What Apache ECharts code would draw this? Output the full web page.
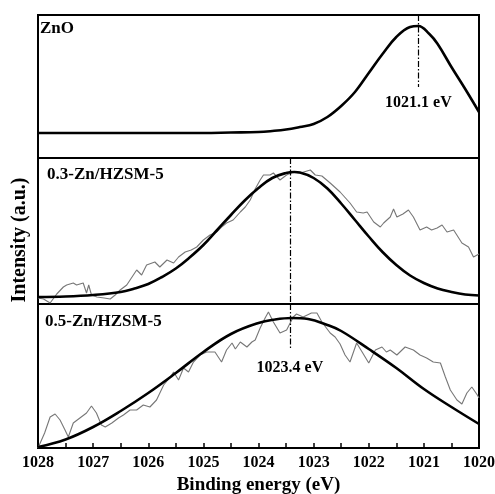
<!DOCTYPE html>
<html>
<head>
<meta charset="utf-8">
<script src="https://cdn.jsdelivr.net/npm/echarts@6/dist/echarts.min.js"></script>
<style>html,body{margin:0;padding:0;background:#fff;}#c{width:495px;height:494px;}</style>
</head>
<body>
<div id="c"></div>
<script>
// ---- data (binding energy eV, intensity a.u.) ----
const panelNames = ['ZnO', '0.3-Zn/HZSM-5', '0.5-Zn/HZSM-5'];
const xTicks = [1028, 1027, 1026, 1025, 1024, 1023, 1022, 1021, 1020];
const peakZnO = 1021.1;
const peakZn = 1023.4;

const znoCurve = [[1028,25],[1027.5,25],[1027,25],[1026.5,25],[1026,25],[1025.5,25],[1025,25],[1024.5,25.5],[1024,26],[1023.75,27],[1023.5,28.5],[1023.25,31],[1023,34],[1022.75,41],[1022.5,52],[1022.25,66],[1022,85],[1021.75,104],[1021.5,121],[1021.25,131],[1021.1,132],[1020.9,124],[1020.75,114],[1020.5,91],[1020.25,69],[1020,46]];

const zn03Raw = [[1028,6],[1027.9,5],[1027.78,1],[1027.66,10],[1027.54,17],[1027.48,19],[1027.36,21],[1027.3,19],[1027.18,21],[1027.12,11],[1027.08,19],[1027.03,9],[1026.93,7],[1026.8,6],[1026.69,5],[1026.6,9],[1026.51,14],[1026.39,19],[1026.33,24],[1026.21,34],[1026.12,29],[1026.03,39],[1025.88,42],[1025.79,37],[1025.66,44],[1025.54,41],[1025.45,47],[1025.33,52],[1025.22,54],[1025.12,57],[1025.0,64],[1024.88,69],[1024.76,72],[1024.67,77],[1024.58,81],[1024.46,84],[1024.33,92],[1024.24,97],[1024.15,104],[1024.06,115],[1023.97,124],[1023.91,129],[1023.79,129],[1023.73,131],[1023.61,124],[1023.49,129],[1023.37,132],[1023.24,131],[1023.06,134],[1022.97,129],[1022.85,128],[1022.7,121],[1022.52,112],[1022.34,101],[1022.22,92],[1022.1,91],[1022.03,92],[1021.91,82],[1021.79,77],[1021.73,81],[1021.61,87],[1021.55,95],[1021.49,87],[1021.38,90],[1021.28,94],[1021.19,87],[1021.07,74],[1020.95,77],[1020.86,74],[1020.76,76],[1020.67,79],[1020.58,72],[1020.46,74],[1020.31,61],[1020.19,57],[1020.1,47],[1020.0,50]];

const zn03Fit = [[1028,7],[1027.5,7.5],[1027,9],[1026.5,12],[1026.25,15.5],[1026,20],[1025.75,27],[1025.5,35.5],[1025.25,46.5],[1025,59],[1024.75,74],[1024.5,89],[1024.25,103.5],[1024,116],[1023.75,126],[1023.5,131],[1023.35,132],[1023.25,131.5],[1023,126],[1022.75,115.5],[1022.5,100.5],[1022.25,84],[1022,67.5],[1021.75,52],[1021.5,39],[1021.25,28.5],[1021,21],[1020.75,15.5],[1020.5,12],[1020.25,9.5],[1020,8.5]];

const zn05Raw = [[1028,0],[1027.88,15],[1027.78,31],[1027.69,34],[1027.6,28],[1027.51,18],[1027.45,11],[1027.36,25],[1027.24,30],[1027.12,35],[1027.03,42],[1026.94,35],[1026.85,23],[1026.78,21],[1026.66,25],[1026.54,30],[1026.45,33],[1026.33,38],[1026.21,38],[1026.09,43],[1025.97,41],[1025.85,48],[1025.72,63],[1025.6,71],[1025.54,76],[1025.45,68],[1025.36,80],[1025.27,76],[1025.18,86],[1025.06,93],[1024.94,96],[1024.79,96],[1024.67,86],[1024.58,98],[1024.48,105],[1024.42,99],[1024.33,106],[1024.21,101],[1024.12,106],[1024.06,108],[1023.97,120],[1023.88,130],[1023.82,136],[1023.73,126],[1023.61,115],[1023.49,118],[1023.37,131],[1023.31,134],[1023.19,131],[1023.04,135],[1022.94,135],[1022.85,126],[1022.7,115],[1022.61,111],[1022.52,104],[1022.43,93],[1022.34,86],[1022.22,105],[1022.12,96],[1022.0,85],[1021.88,98],[1021.76,101],[1021.68,96],[1021.61,98],[1021.49,93],[1021.34,101],[1021.19,98],[1021.07,93],[1020.95,90],[1020.83,86],[1020.7,85],[1020.61,71],[1020.52,58],[1020.4,48],[1020.31,44],[1020.22,55],[1020.13,61],[1020.03,53],[1020.0,50]];

const zn05Fit = [[1028,1],[1027.5,8.5],[1027,21],[1026.5,37],[1026,55],[1025.5,75],[1025,96],[1024.5,114],[1024,125],[1023.7,128.5],[1023.4,130],[1023.1,129],[1022.75,123],[1022.5,117],[1022,99],[1021.5,80],[1021,59],[1020.5,41],[1020,24]];

// ---- chart ----
const FONT = 'Liberation Serif';
const grids = [
  {left: 38, right: 16, top: 15, height: 143},
  {left: 38, right: 16, top: 158, height: 146},
  {left: 38, right: 16, top: 304, height: 144}
];
const yMax = [143, 146, 144];

const chart = echarts.init(document.getElementById('c'), null, {renderer: 'canvas'});

const xAxes = grids.map((g, i) => ({
  gridIndex: i, type: 'value', min: 1020, max: 1028, interval: 1, inverse: true,
  axisLine: {show: false},
  splitLine: {show: false},
  axisTick: {show: i === 2, inside: true, length: 5, lineStyle: {color: '#000', width: 1.5}},
  minorTick: {show: i === 2, splitNumber: 2, length: 5, lineStyle: {color: '#000', width: 1.5}},
  axisLabel: {show: i === 2, color: '#000', fontFamily: FONT, fontWeight: 'bold', fontSize: 16, margin: 7,
    formatter: v => String(v)},
  name: i === 2 ? 'Binding energy (eV)' : '',
  nameLocation: 'middle', nameGap: 28,
  nameTextStyle: {color: '#000', fontFamily: FONT, fontWeight: 'bold', fontSize: 19}
}));
const yAxes = grids.map((g, i) => ({
  gridIndex: i, type: 'value', min: 0, max: yMax[i], show: false
}));

const dashDot = [6, 2, 1.5, 2];
const labelStyle = {color: '#000', fontFamily: FONT, fontWeight: 'bold', fontSize: 16};

const option = {
  animation: false,
  backgroundColor: '#fff',
  grid: grids.map(g => Object.assign({show: true, borderColor: '#000', borderWidth: 2, backgroundColor: 'transparent', outerBoundsMode: 'none', containLabel: false}, g)),
  xAxis: xAxes,
  yAxis: yAxes,
  title: [
    {text: panelNames[0], left: 40, top: 20},
    {text: panelNames[1], left: 47, top: 166},
    {text: panelNames[2], left: 45, top: 313}
  ].map(t => Object.assign(t, {padding: 0, textStyle: {color: '#000', fontFamily: FONT, fontWeight: 'bold', fontSize: 17}})),
  graphic: [{
    type: 'text', x: 20, y: 240, rotation: Math.PI / 2, origin: [0, 0],
    style: {text: 'Intensity (a.u.)', fill: '#000', font: 'bold 20px "Liberation Serif"', align: 'center', verticalAlign: 'middle'}
  }],
  series: [
    {
      type: 'line', xAxisIndex: 0, yAxisIndex: 0, data: znoCurve, smooth: 0.4, symbol: 'none',
      lineStyle: {color: '#000', width: 2.6},
      markLine: {
        silent: true, symbol: 'none',
        lineStyle: {color: '#000', width: 1.2, type: dashDot},
        label: Object.assign({show: true, position: 'end', distance: 8, formatter: peakZnO.toFixed(1) + ' eV'}, labelStyle),
        data: [[{coord: [peakZnO, 143]}, {coord: [peakZnO, 71]}]]
      }
    },
    {
      type: 'line', xAxisIndex: 1, yAxisIndex: 1, data: zn03Raw, symbol: 'none',
      lineStyle: {color: '#777', width: 1.1}
    },
    {
      type: 'line', xAxisIndex: 1, yAxisIndex: 1, data: zn03Fit, smooth: 0.4, symbol: 'none',
      lineStyle: {color: '#000', width: 2.6},
      markLine: {
        silent: true, symbol: 'none',
        lineStyle: {color: '#000', width: 1.2, type: dashDot},
        label: {show: false},
        data: [[{coord: [peakZn + 0.03, 146]}, {coord: [peakZn + 0.03, 0]}]]
      }
    },
    {
      type: 'line', xAxisIndex: 2, yAxisIndex: 2, data: zn05Raw, symbol: 'none',
      lineStyle: {color: '#777', width: 1.1}
    },
    {
      type: 'line', xAxisIndex: 2, yAxisIndex: 2, data: zn05Fit, smooth: 0.4, symbol: 'none',
      lineStyle: {color: '#000', width: 2.6},
      markLine: {
        silent: true, symbol: 'none',
        lineStyle: {color: '#000', width: 1.2, type: dashDot},
        label: Object.assign({show: true, position: 'end', distance: 12, formatter: peakZn.toFixed(1) + ' eV'}, labelStyle),
        data: [[{coord: [peakZn + 0.03, 144]}, {coord: [peakZn + 0.03, 100]}]]
      }
    }
  ]
};
chart.setOption(option);
</script>
</body>
</html>
